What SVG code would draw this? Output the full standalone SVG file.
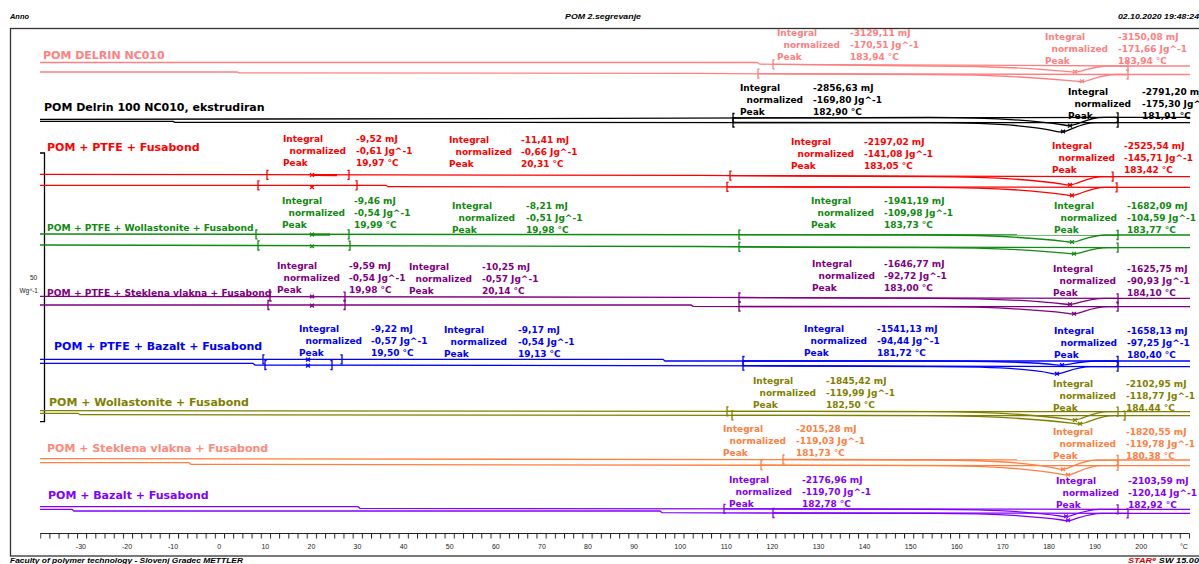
<svg xmlns="http://www.w3.org/2000/svg" width="1199" height="564" viewBox="0 0 1199 564">
<style>
.frame{fill:none;stroke:#333;stroke-width:1.3}
.hdr{font-family:"Liberation Sans",Arial,sans-serif;font-weight:bold;font-style:italic;font-size:7.5px;fill:#000}
.smp{fill:none;stroke-width:1.3}
.smp text{stroke:none}
.lbl{font-family:"DejaVu Sans",Verdana,sans-serif;font-weight:bold;font-size:11px}
.lbls{font-size:9.2px}
.ann{font-family:"DejaVu Sans",Verdana,sans-serif;font-weight:bold;font-size:9px}
.tick{font-family:"Liberation Sans",Arial,sans-serif;font-size:7px;fill:#222;text-anchor:middle}
#s1{stroke:#ff8080}#s1 text{fill:#ff8080}
#s2{stroke:#000}#s2 text{fill:#000}
#s3{stroke:#ff0000}#s3 text{fill:#ff0000}
#s4{stroke:#108a10}#s4 text{fill:#108a10}
#s5{stroke:#800080}#s5 text{fill:#800080}
#s6{stroke:#0000ff}#s6 text{fill:#0000ff}
#s7{stroke:#808000}#s7 text{fill:#808000}
#s8{stroke:#ff8040}#s8 text{fill:#ff8040}#s8 text.lbl{fill:#ff8a7a}
#s9{stroke:#8000ff}#s9 text{fill:#8000ff}
</style>
<defs>
<path id="bl" d="M1.6,-4.5 H0 V4.5 H1.6" fill="none"/>
<path id="br" d="M-1.6,-4.5 H0 V4.5 H-1.6" fill="none"/>
<path id="xm" d="M-2,-1.8 L2,1.8 M-2,1.8 L2,-1.8" fill="none"/>
<pattern id="tk" x="40.2" y="533.5" width="9.19" height="5" patternUnits="userSpaceOnUse"><rect x="0" y="0" width="1" height="5" fill="#222"/></pattern>
</defs>
<rect width="1199" height="564" fill="#fff"/>
<g id="header">
<text class="hdr" x="10" y="19" textLength="19" lengthAdjust="spacingAndGlyphs">Anno</text>
<text class="hdr" x="565" y="19" textLength="76" lengthAdjust="spacingAndGlyphs">POM 2.segrevanje</text>
<text class="hdr" x="1118" y="19" textLength="81" lengthAdjust="spacingAndGlyphs">02.10.2020 19:48:24</text>
</g>
<rect class="frame" x="10.5" y="28.5" width="1200" height="527.5"/>
<g id="axes">
<path d="M40,153 H44.5 V421.7 H40" fill="none" stroke="#000" stroke-width="1.3"/>
<text x="33.5" y="279.5" font-family="Liberation Sans,Arial,sans-serif" font-size="6.5" text-anchor="middle" fill="#222">50</text>
<text x="38" y="292.5" font-family="Liberation Sans,Arial,sans-serif" font-size="6.5" text-anchor="end" fill="#222">Wg^-1</text>
<path d="M40.2,533.5 H1189.5" stroke="#222" stroke-width="1.2"/>
<rect x="40.2" y="533.5" width="1150" height="5" fill="url(#tk)"/>
<text class="tick" x="80.9" y="549">-30</text><text class="tick" x="127" y="549">-20</text><text class="tick" x="173.1" y="549">-10</text><text class="tick" x="219.2" y="549">0</text><text class="tick" x="265.3" y="549">10</text><text class="tick" x="311.4" y="549">20</text><text class="tick" x="357.5" y="549">30</text><text class="tick" x="403.6" y="549">40</text><text class="tick" x="449.7" y="549">50</text><text class="tick" x="495.8" y="549">60</text><text class="tick" x="541.9" y="549">70</text><text class="tick" x="588" y="549">80</text><text class="tick" x="634.1" y="549">90</text><text class="tick" x="680.2" y="549">100</text><text class="tick" x="726.3" y="549">110</text><text class="tick" x="772.4" y="549">120</text><text class="tick" x="818.5" y="549">130</text><text class="tick" x="864.6" y="549">140</text><text class="tick" x="910.7" y="549">150</text><text class="tick" x="956.8" y="549">160</text><text class="tick" x="1002.9" y="549">170</text><text class="tick" x="1049" y="549">180</text><text class="tick" x="1095.1" y="549">190</text><text class="tick" x="1141.2" y="549">200</text><text class="tick" x="1184" y="549">°C</text>
</g>

<g id="s1" class="smp">
<text class="lbl" x="43" y="59.3">POM DELRIN NC010</text>
<path d="M40,62.5 L757,62.5 L760,64.2 L880,65.5 L930,66 C990,66 1035,68.4 1069,71.7 Q1075,72.9 1081,71.1 C1089,69 1097,66 1109,66 L1190,66"/>
<path d="M773,64.3 L1128,66"/>
<path d="M40,72 L237,72 L239,72.8 L700,73.4 L800,74 L930,74.5 C990,74.5 1035,77.3 1076,81.2 Q1082,82.6 1088,80.5 C1096,78 1104,74.5 1116,74.5 L1190,74.5"/>
<path d="M758,73.7 L1128,74.5"/>
<use href="#bl" x="773" y="64.3"/><use href="#br" x="1128" y="66"/><use href="#bl" x="758" y="73.7"/><use href="#br" x="1128" y="74.5"/>
<use href="#xm" x="1075" y="71.7"/><use href="#xm" x="1082" y="81.3"/>
<text class="ann" x="777" y="36.3">Integral<tspan x="783.5" dy="12">normalized</tspan><tspan x="777" dy="12">Peak</tspan></text>
<text class="ann" x="850" y="36.3">-3129,11 mJ<tspan x="850" dy="12">-170,51 Jg^-1</tspan><tspan x="850" dy="12">183,94 °C</tspan></text>
<text class="ann" x="1045" y="40">Integral<tspan x="1051.5" dy="12">normalized</tspan><tspan x="1045" dy="12">Peak</tspan></text>
<text class="ann" x="1118" y="40">-3150,08 mJ<tspan x="1118" dy="12">-171,66 Jg^-1</tspan><tspan x="1118" dy="12">183,94 °C</tspan></text>
</g>

<g id="s2" class="smp">
<text class="lbl" x="44" y="110.7">POM Delrin 100 NC010, ekstrudiran</text>
<path d="M40,119.3 L520,118.6 L800,117.8 L930,117.4 C990,117.4 1035,120.6 1064,125 Q1070,126.6 1076,124.2 C1084,121.4 1092,117.4 1104,117.4 L1190,117.4"/>
<path d="M733,118 L1118,117.4"/>
<path d="M40,121.3 L173,121.3 L175,122.3 L800,122.6 L930,122.7 C990,122.7 1035,126.3 1056,131.3 Q1062,133 1068,130.4 C1076,127.2 1084,122.7 1096,122.7 L1190,122.7"/>
<path d="M733,122.5 L1118,122.7"/>
<use href="#bl" x="733" y="118"/><use href="#br" x="1118" y="117.4"/><use href="#bl" x="733" y="122.5"/><use href="#br" x="1118" y="122.7"/>
<use href="#xm" x="1070" y="125.8"/><use href="#xm" x="1063" y="131.5"/>
<text class="ann" x="740" y="91.3">Integral<tspan x="746.5" dy="12">normalized</tspan><tspan x="740" dy="12">Peak</tspan></text>
<text class="ann" x="813" y="91.3">-2856,63 mJ<tspan x="813" dy="12">-169,80 Jg^-1</tspan><tspan x="813" dy="12">182,90 °C</tspan></text>
<text class="ann" x="1068" y="95">Integral<tspan x="1074.5" dy="12">normalized</tspan><tspan x="1068" dy="12">Peak</tspan></text>
<text class="ann" x="1142" y="95">-2791,20 mJ<tspan x="1142" dy="12">-175,30 Jg^-1</tspan><tspan x="1142" dy="12">181,91 °C</tspan></text>
</g>

<g id="s3" class="smp">
<text class="lbl" x="47" y="151">POM + PTFE + Fusabond</text>
<path d="M40,174.3 L700,175.4 L800,176 L930,176.7 C990,176.7 1035,179.9 1064,184.3 Q1070,185.9 1076,183.5 C1084,180.7 1092,176.7 1104,176.7 L1190,176.7"/>
<path d="M730,175.6 L1113,176.7"/>
<path d="M312,175 L337,175.1" stroke-width="2.2"/>
<path d="M40,185.3 L386,185.3 L388,186.7 L800,187 L930,187.3 C990,187.3 1035,190.5 1066,194.9 Q1072,196.5 1078,194.1 C1086,191.3 1094,187.3 1106,187.3 L1190,187.3"/>
<path d="M727,186.9 L1117,187.3"/>
<use href="#bl" x="267" y="174.8"/><use href="#br" x="349" y="174.9"/><use href="#bl" x="258" y="185.3"/><use href="#br" x="357" y="185.3"/>
<use href="#xm" x="312" y="175"/><use href="#xm" x="312" y="187.2"/>
<use href="#bl" x="730" y="175.6"/><use href="#br" x="1113" y="176.7"/><use href="#bl" x="727" y="186.9"/><use href="#br" x="1117" y="187.3"/>
<use href="#xm" x="1070" y="184.8"/><use href="#xm" x="1072" y="195.4"/>
<text class="ann" x="283" y="142.3">Integral<tspan x="289.5" dy="12">normalized</tspan><tspan x="283" dy="12">Peak</tspan></text>
<text class="ann" x="356" y="142.3">-9,52 mJ<tspan x="356" dy="12">-0,61 Jg^-1</tspan><tspan x="356" dy="12">19,97 °C</tspan></text>
<text class="ann" x="449" y="143.3">Integral<tspan x="455.5" dy="12">normalized</tspan><tspan x="449" dy="12">Peak</tspan></text>
<text class="ann" x="521" y="143.3">-11,41 mJ<tspan x="521" dy="12">-0,66 Jg^-1</tspan><tspan x="521" dy="12">20,31 °C</tspan></text>
<text class="ann" x="791" y="145">Integral<tspan x="797.5" dy="12">normalized</tspan><tspan x="791" dy="12">Peak</tspan></text>
<text class="ann" x="864" y="145">-2197,02 mJ<tspan x="864" dy="12">-141,08 Jg^-1</tspan><tspan x="864" dy="12">183,05 °C</tspan></text>
<text class="ann" x="1052" y="149">Integral<tspan x="1058.5" dy="12">normalized</tspan><tspan x="1052" dy="12">Peak</tspan></text>
<text class="ann" x="1124" y="149">-2525,54 mJ<tspan x="1124" dy="12">-145,71 Jg^-1</tspan><tspan x="1124" dy="12">183,42 °C</tspan></text>
</g>

<g id="s4" class="smp">
<text class="lbl lbls" x="47" y="231.3">POM + PTFE + Wollastonite + Fusabond</text>
<path d="M40,234 L800,234.8 L930,235 C990,235 1035,237.8 1066,241.7 Q1072,243 1078,241 C1086,238.5 1094,235 1106,235 L1190,235"/>
<path d="M739,234.7 L1118,235"/>
<path d="M312,234.6 L330,234.6" stroke-width="2.2"/>
<path d="M40,245 L700,246.5 L800,247.3 L930,247.7 C990,247.7 1035,250.1 1068,253.4 Q1074,254.6 1080,252.8 C1088,250.7 1096,247.7 1108,247.7 L1190,247.7"/>
<path d="M739,246.8 L1118,247.7"/>
<use href="#bl" x="256" y="234.3"/><use href="#br" x="349" y="234.4"/><use href="#bl" x="258" y="245.5"/><use href="#br" x="350" y="245.7"/>
<use href="#xm" x="312" y="234.6"/><use href="#xm" x="312" y="246.2"/>
<use href="#bl" x="739" y="234.7"/><use href="#br" x="1118" y="235"/><use href="#bl" x="739" y="246.8"/><use href="#br" x="1118" y="247.7"/>
<use href="#xm" x="1072" y="242"/><use href="#xm" x="1074" y="253.7"/>
<text class="ann" x="282" y="204.3">Integral<tspan x="288.5" dy="12">normalized</tspan><tspan x="282" dy="12">Peak</tspan></text>
<text class="ann" x="354" y="204.3">-9,46 mJ<tspan x="354" dy="12">-0,54 Jg^-1</tspan><tspan x="354" dy="12">19,99 °C</tspan></text>
<text class="ann" x="452" y="209.3">Integral<tspan x="458.5" dy="12">normalized</tspan><tspan x="452" dy="12">Peak</tspan></text>
<text class="ann" x="526" y="209.3">-8,21 mJ<tspan x="526" dy="12">-0,51 Jg^-1</tspan><tspan x="526" dy="12">19,98 °C</tspan></text>
<text class="ann" x="811" y="203.8">Integral<tspan x="817.5" dy="12">normalized</tspan><tspan x="811" dy="12">Peak</tspan></text>
<text class="ann" x="884" y="203.8">-1941,19 mJ<tspan x="884" dy="12">-109,98 Jg^-1</tspan><tspan x="884" dy="12">183,73 °C</tspan></text>
<text class="ann" x="1054" y="209.3">Integral<tspan x="1060.5" dy="12">normalized</tspan><tspan x="1054" dy="12">Peak</tspan></text>
<text class="ann" x="1127" y="209.3">-1682,09 mJ<tspan x="1127" dy="12">-104,59 Jg^-1</tspan><tspan x="1127" dy="12">183,77 °C</tspan></text>
</g>

<g id="s5" class="smp">
<text class="lbl lbls" x="47" y="295.7">POM + PTFE + Steklena vlakna + Fusabond</text>
<path d="M40,296.3 L700,297.3 L800,297.9 L930,298.3 C990,298.3 1035,300.7 1064,304 Q1070,305.2 1076,303.4 C1084,301.3 1092,298.3 1104,298.3 L1190,298.3"/>
<path d="M739,297.5 L1118,298.3"/>
<path d="M40,305 L691,305 L693,306.4 L800,306.6 L930,306.7 C990,306.7 1035,309.5 1068,313.4 Q1074,314.8 1080,312.7 C1088,310.2 1096,306.7 1108,306.7 L1190,306.7"/>
<path d="M739,306.5 L1118,306.7"/>
<use href="#bl" x="270" y="296.5"/><use href="#br" x="345" y="296.6"/><use href="#bl" x="268" y="305"/><use href="#br" x="345" y="305"/>
<use href="#xm" x="312" y="296.5"/><use href="#xm" x="312" y="305.6"/>
<use href="#bl" x="739" y="297.5"/><use href="#br" x="1118" y="298.3"/><use href="#bl" x="739" y="306.5"/><use href="#br" x="1118" y="306.7"/>
<use href="#xm" x="1070" y="304.3"/><use href="#xm" x="1074" y="313.7"/>
<text class="ann" x="277" y="269.3">Integral<tspan x="283.5" dy="12">normalized</tspan><tspan x="277" dy="12">Peak</tspan></text>
<text class="ann" x="349" y="269.3">-9,59 mJ<tspan x="349" dy="12">-0,54 Jg^-1</tspan><tspan x="349" dy="12">19,98 °C</tspan></text>
<text class="ann" x="409" y="270.3">Integral<tspan x="415.5" dy="12">normalized</tspan><tspan x="409" dy="12">Peak</tspan></text>
<text class="ann" x="482" y="270.3">-10,25 mJ<tspan x="482" dy="12">-0,57 Jg^-1</tspan><tspan x="482" dy="12">20,14 °C</tspan></text>
<text class="ann" x="812" y="266.6">Integral<tspan x="818.5" dy="12">normalized</tspan><tspan x="812" dy="12">Peak</tspan></text>
<text class="ann" x="884" y="266.6">-1646,77 mJ<tspan x="884" dy="12">-92,72 Jg^-1</tspan><tspan x="884" dy="12">183,00 °C</tspan></text>
<text class="ann" x="1053" y="271.6">Integral<tspan x="1059.5" dy="12">normalized</tspan><tspan x="1053" dy="12">Peak</tspan></text>
<text class="ann" x="1127" y="271.6">-1625,75 mJ<tspan x="1127" dy="12">-90,93 Jg^-1</tspan><tspan x="1127" dy="12">184,10 °C</tspan></text>
</g>

<g id="s6" class="smp">
<text class="lbl" x="54" y="350">POM + PTFE + Bazalt + Fusabond</text>
<path d="M40,359.3 L663,359.3 L665,361 L930,361 C990,361 1035,362.6 1056,364.8 Q1062,365.6 1068,364.4 C1076,363 1084,361 1096,361 L1190,361"/>
<path d="M743,361 L1118,361"/>
<path d="M40,363.3 L253,363.3 L255,365 L800,366 L930,366.7 C990,366.7 1035,369.5 1051,373.4 Q1057,374.8 1063,372.7 C1071,370.2 1079,366.7 1091,366.7 L1190,366.7"/>
<path d="M743,365.7 L1118,366.7"/>
<use href="#bl" x="263" y="359.3"/><use href="#br" x="342" y="359.3"/><use href="#bl" x="265" y="365"/><use href="#br" x="332" y="365.1"/>
<use href="#xm" x="308" y="359.6"/><use href="#xm" x="308" y="365.6"/>
<use href="#bl" x="743" y="361"/><use href="#br" x="1118" y="361"/><use href="#bl" x="743" y="365.7"/><use href="#br" x="1118" y="366.7"/>
<use href="#xm" x="1062" y="365"/><use href="#xm" x="1057" y="373.7"/>
<text class="ann" x="299" y="331.6">Integral<tspan x="305.5" dy="12">normalized</tspan><tspan x="299" dy="12">Peak</tspan></text>
<text class="ann" x="371" y="331.6">-9,22 mJ<tspan x="371" dy="12">-0,57 Jg^-1</tspan><tspan x="371" dy="12">19,50 °C</tspan></text>
<text class="ann" x="444" y="332.6">Integral<tspan x="450.5" dy="12">normalized</tspan><tspan x="444" dy="12">Peak</tspan></text>
<text class="ann" x="518" y="332.6">-9,17 mJ<tspan x="518" dy="12">-0,54 Jg^-1</tspan><tspan x="518" dy="12">19,13 °C</tspan></text>
<text class="ann" x="804" y="331.6">Integral<tspan x="810.5" dy="12">normalized</tspan><tspan x="804" dy="12">Peak</tspan></text>
<text class="ann" x="877" y="331.6">-1541,13 mJ<tspan x="877" dy="12">-94,44 Jg^-1</tspan><tspan x="877" dy="12">181,72 °C</tspan></text>
<text class="ann" x="1054" y="334">Integral<tspan x="1060.5" dy="12">normalized</tspan><tspan x="1054" dy="12">Peak</tspan></text>
<text class="ann" x="1127" y="334">-1658,13 mJ<tspan x="1127" dy="12">-97,25 Jg^-1</tspan><tspan x="1127" dy="12">180,40 °C</tspan></text>
</g>

<g id="s7" class="smp">
<text class="lbl" x="49" y="405.7">POM + Wollastonite + Fusabond</text>
<path d="M40,410.7 L800,411.4 L930,411.7 C990,411.7 1035,414.9 1069,419.3 Q1075,420.9 1081,418.5 C1089,415.7 1097,411.7 1109,411.7 L1190,411.7"/>
<path d="M727,411.3 L1118,411.7"/>
<path d="M40,413.3 L78,413.3 L80,414.7 L800,415.4 L930,415.7 C990,415.7 1035,418.9 1074,423.3 Q1080,424.9 1086,422.5 C1094,419.7 1102,415.7 1114,415.7 L1190,415.7"/>
<path d="M732,415.3 L1125,415.7"/>
<use href="#bl" x="727" y="411.3"/><use href="#br" x="1118" y="411.7"/><use href="#bl" x="732" y="415.3"/><use href="#br" x="1125" y="415.7"/>
<use href="#xm" x="1075" y="420"/><use href="#xm" x="1080" y="423.8"/>
<text class="ann" x="753" y="384.3">Integral<tspan x="759.5" dy="12">normalized</tspan><tspan x="753" dy="12">Peak</tspan></text>
<text class="ann" x="826" y="384.3">-1845,42 mJ<tspan x="826" dy="12">-119,99 Jg^-1</tspan><tspan x="826" dy="12">182,50 °C</tspan></text>
<text class="ann" x="1053" y="387.3">Integral<tspan x="1059.5" dy="12">normalized</tspan><tspan x="1053" dy="12">Peak</tspan></text>
<text class="ann" x="1126" y="387.3">-2102,95 mJ<tspan x="1126" dy="12">-118,77 Jg^-1</tspan><tspan x="1126" dy="12">184,44 °C</tspan></text>
</g>

<g id="s8" class="smp">
<text class="lbl" x="47" y="452.3">POM + Steklena vlakna + Fusabond</text>
<path d="M40,458.7 L800,459.6 L930,460 C990,460 1035,463.6 1057,468.6 Q1063,470.4 1069,467.7 C1077,464.5 1085,460 1097,460 L1190,460"/>
<path d="M783,459.5 L1118,460"/>
<path d="M40,462.7 L189,462.7 L191,464.3 L800,465.3 L930,465.7 C990,465.7 1035,469.3 1062,474.3 Q1068,476 1074,473.4 C1082,470.2 1090,465.7 1102,465.7 L1190,465.7"/>
<path d="M761,465.1 L1118,465.7"/>
<use href="#bl" x="783" y="459.5"/><use href="#br" x="1118" y="460"/><use href="#bl" x="761" y="465.1"/><use href="#br" x="1118" y="465.7"/>
<use href="#xm" x="1063" y="469.3"/><use href="#xm" x="1068" y="474.8"/>
<text class="ann" x="723" y="432.3">Integral<tspan x="729.5" dy="12">normalized</tspan><tspan x="723" dy="12">Peak</tspan></text>
<text class="ann" x="796" y="432.3">-2015,28 mJ<tspan x="796" dy="12">-119,03 Jg^-1</tspan><tspan x="796" dy="12">181,73 °C</tspan></text>
<text class="ann" x="1053" y="435">Integral<tspan x="1059.5" dy="12">normalized</tspan><tspan x="1053" dy="12">Peak</tspan></text>
<text class="ann" x="1126" y="435">-1820,55 mJ<tspan x="1126" dy="12">-119,78 Jg^-1</tspan><tspan x="1126" dy="12">180,38 °C</tspan></text>
</g>

<g id="s9" class="smp">
<text class="lbl" x="48" y="499">POM + Bazalt + Fusabond</text>
<path d="M40,506.7 L358,506.7 L360,508.3 L800,509 L930,509.3 C990,509.3 1035,512.1 1060,516 Q1066,517.4 1072,515.3 C1080,512.8 1088,509.3 1100,509.3 L1190,509.3"/>
<path d="M724,508.8 L1118,509.3"/>
<path d="M40,509.3 L72,509.3 L74,511 L660,511 L662,512.7 L800,513.1 L930,513.3 C990,513.3 1035,516.1 1062,520 Q1068,521.4 1074,519.3 C1082,516.8 1090,513.3 1102,513.3 L1190,513.3"/>
<path d="M773,513 L1128,513.3"/>
<use href="#bl" x="724" y="508.8"/><use href="#br" x="1118" y="509.3"/><use href="#bl" x="773" y="513"/><use href="#br" x="1128" y="513.3"/>
<use href="#xm" x="1066" y="516.3"/><use href="#xm" x="1068" y="520.3"/>
<text class="ann" x="729" y="482.6">Integral<tspan x="735.5" dy="12">normalized</tspan><tspan x="729" dy="12">Peak</tspan></text>
<text class="ann" x="802" y="482.6">-2176,96 mJ<tspan x="802" dy="12">-119,70 Jg^-1</tspan><tspan x="802" dy="12">182,78 °C</tspan></text>
<text class="ann" x="1056" y="484">Integral<tspan x="1062.5" dy="12">normalized</tspan><tspan x="1056" dy="12">Peak</tspan></text>
<text class="ann" x="1128" y="484">-2103,59 mJ<tspan x="1128" dy="12">-120,14 Jg^-1</tspan><tspan x="1128" dy="12">182,92 °C</tspan></text>
</g>

<g id="footer">
<text class="hdr" x="10" y="562.5" font-size="8" textLength="233" lengthAdjust="spacingAndGlyphs">Faculty of polymer technology - Slovenj Gradec METTLER</text>
<text class="hdr" x="1128" y="562.5" font-size="8" textLength="71" lengthAdjust="spacingAndGlyphs"><tspan fill="#e00000">STAR</tspan><tspan fill="#e00000" font-size="6" dy="-2">e</tspan><tspan dy="2"> SW 15.00</tspan></text>
</g>
</svg>
